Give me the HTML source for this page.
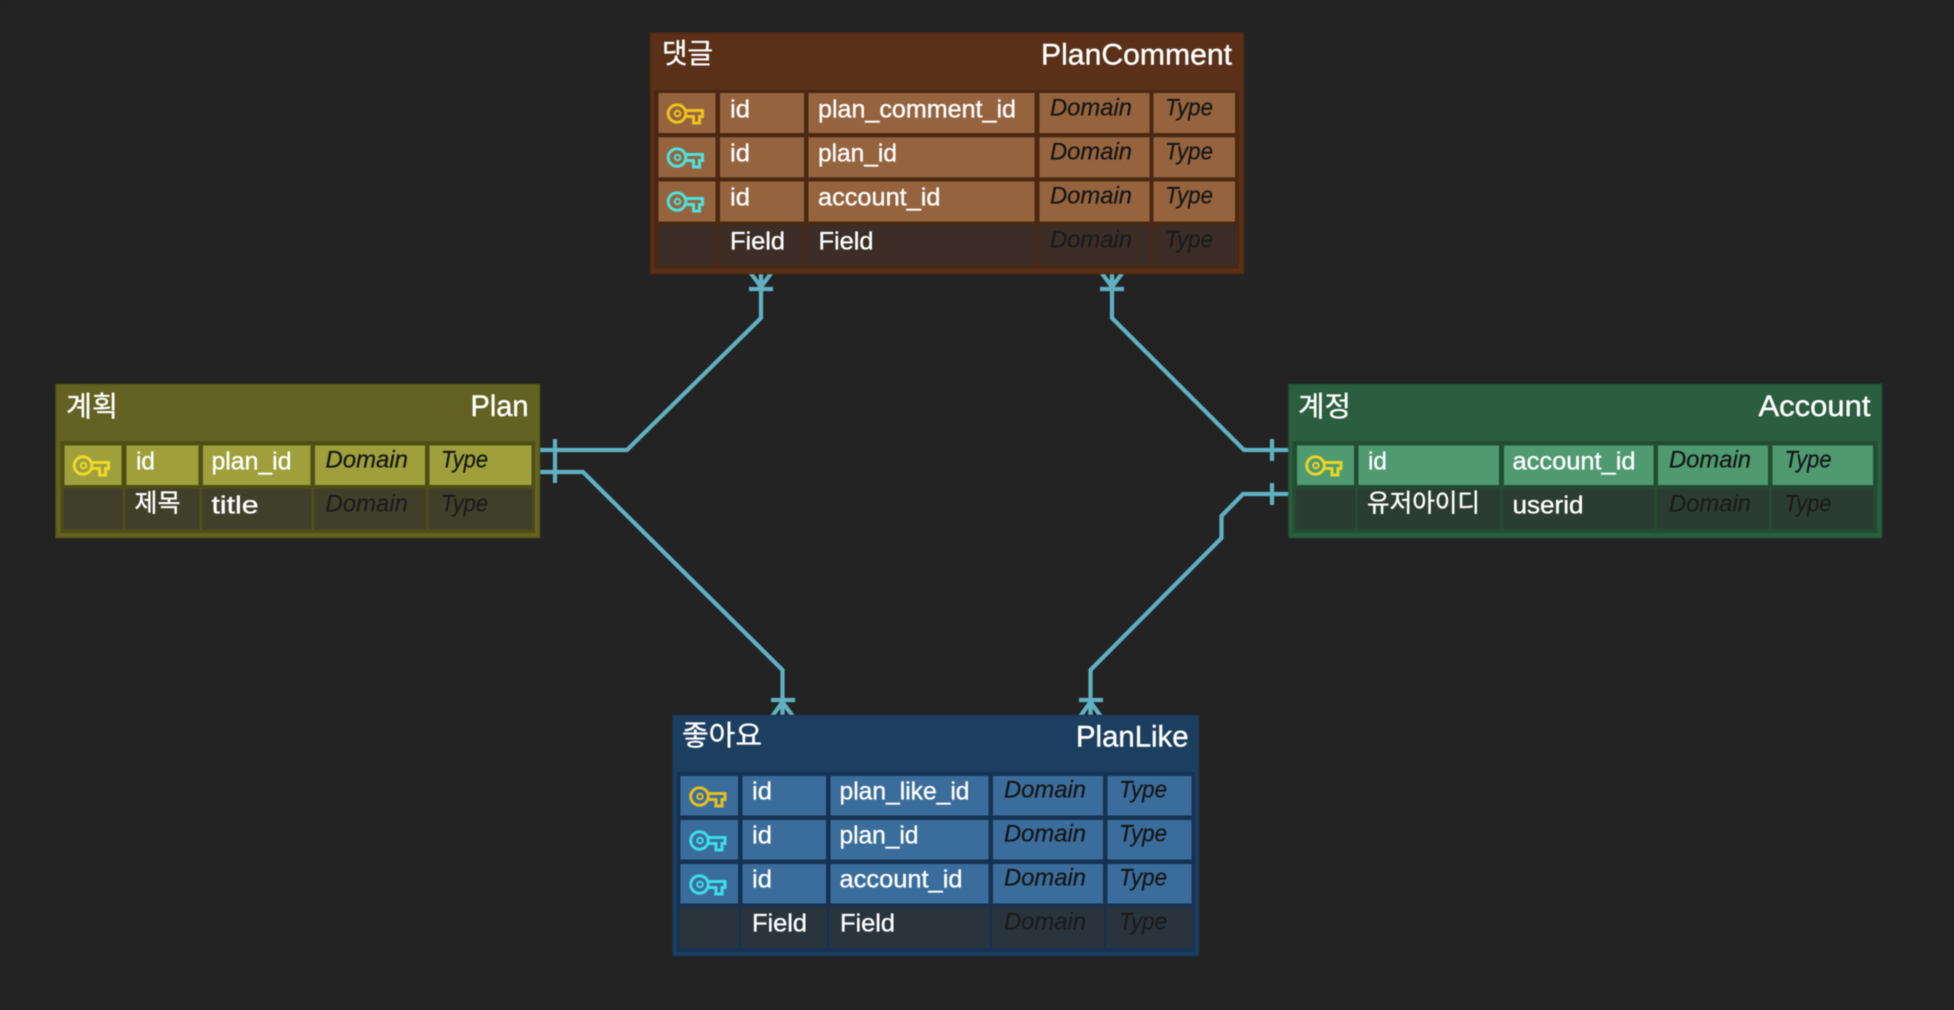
<!DOCTYPE html>
<html><head><meta charset="utf-8">
<style>
html,body{margin:0;padding:0;background:#232323;width:1954px;height:1010px;overflow:hidden}
svg{display:block;filter:blur(.6px)}
text{font-family:"Liberation Sans","Noto Sans CJK KR",sans-serif}
.f{font-size:25px;fill:#fff;stroke:#fff;stroke-width:.35px}
.d{font-size:24px;font-style:italic;fill:#141414;stroke:#141414;stroke-width:.2px}
.e{font-size:24px;font-style:italic;fill:#1b1b1b;stroke:#1b1b1b;stroke-width:.2px}
.h{font-size:30px;fill:#fff;stroke:#fff;stroke-width:.4px}
.k{font-size:28px;fill:#fff;stroke:#fff;stroke-width:.35px;font-family:"Noto Sans CJK KR",sans-serif}
.kf{font-size:25px;fill:#fff;stroke:#fff;stroke-width:.35px;font-family:"Noto Sans CJK KR",sans-serif}
.c path,.c line{fill:none;stroke:#5fb1c3;stroke-width:4.2;stroke-linejoin:miter}
</style></head><body>
<svg width="1954" height="1010" viewBox="0 0 1954 1010" xmlns="http://www.w3.org/2000/svg">
<defs>
<g id="key" fill="none" stroke-width="3">
<circle cx="9.5" cy="10.5" r="8.800"/>
<circle cx="10" cy="10.5" r="2.800" stroke-width="2"/>
<path d="M18 7.500H35V13.500H32V20H26V13.500H18"/>
</g>
</defs>
<rect width="1954" height="1010" fill="#232323"/>

<!-- connectors -->
<g class="c">
<path d="M761 275V318L627 450H538"/>
<path d="M1112 275V318L1244 450H1290"/>
<path d="M538 472H583L782.500 670V716"/>
<path d="M1290 494H1243L1221.500 516V538L1090.500 670V716"/>
<line x1="555" y1="439" x2="555" y2="483"/>
<line x1="1272" y1="439" x2="1272" y2="461"/>
<line x1="1272" y1="483" x2="1272" y2="505"/>
<line x1="749" y1="289" x2="773" y2="289"/>
<line x1="1100" y1="289" x2="1124" y2="289"/>
<line x1="771" y1="700" x2="795" y2="700"/>
<line x1="1079" y1="700" x2="1103" y2="700"/>
<path d="M750 272L761 287L772 272M761 272V287"/>
<path d="M1101 272L1112 287L1123 272M1112 272V287"/>
<path d="M771 718L782.500 702L794 718M782.500 718V702"/>
<path d="M1079 718L1090.500 702L1102 718M1090.500 718V702"/>
</g>

<!-- PlanComment -->
<rect x="650.500" y="33" width="593" height="240.500" fill="#5a3018" stroke="#52290f" stroke-width="1.500"/>
<rect x="654.500" y="90" width="584.500" height="179" fill="#4a2812"/>
<g fill="#95643f">
<rect x="658.500" y="93" width="57" height="40"/><rect x="720" y="93" width="84" height="40"/><rect x="808.500" y="93" width="226" height="40"/><rect x="1039.500" y="93" width="110" height="40"/><rect x="1153.500" y="93" width="81.500" height="40"/>
<rect x="658.500" y="137.300" width="57" height="40"/><rect x="720" y="137.300" width="84" height="40"/><rect x="808.500" y="137.300" width="226" height="40"/><rect x="1039.500" y="137.300" width="110" height="40"/><rect x="1153.500" y="137.300" width="81.500" height="40"/>
<rect x="658.500" y="181.500" width="57" height="40"/><rect x="720" y="181.500" width="84" height="40"/><rect x="808.500" y="181.500" width="226" height="40"/><rect x="1039.500" y="181.500" width="110" height="40"/><rect x="1153.500" y="181.500" width="81.500" height="40"/>
</g>
<g fill="#3c2d26">
<rect x="657.500" y="225" width="59" height="41"/><rect x="719" y="225" width="86" height="41"/><rect x="807.500" y="225" width="228" height="41"/><rect x="1038.500" y="225" width="112" height="41"/><rect x="1152.500" y="225" width="83.500" height="41"/>
</g>
<use href="#key" x="667.500" y="103" stroke="#eec21f"/>
<use href="#key" x="667.500" y="147" stroke="#4ee2dc"/>
<use href="#key" x="667.500" y="191" stroke="#4ee2dc"/>
<text class="k" x="662" y="63" textLength="51" lengthAdjust="spacingAndGlyphs">댓글</text>
<text class="h" x="1232" y="64.500" text-anchor="end" textLength="191" lengthAdjust="spacingAndGlyphs">PlanComment</text>
<text class="f" x="730" y="117.500" textLength="20" lengthAdjust="spacingAndGlyphs">id</text><text class="f" x="818" y="117.500" textLength="198" lengthAdjust="spacingAndGlyphs">plan_comment_id</text><text class="d" x="1050" y="115.500" textLength="82" lengthAdjust="spacingAndGlyphs">Domain</text><text class="d" x="1165" y="115.500" textLength="48" lengthAdjust="spacingAndGlyphs">Type</text>
<text class="f" x="730" y="161.500" textLength="20" lengthAdjust="spacingAndGlyphs">id</text><text class="f" x="818" y="161.500" textLength="79" lengthAdjust="spacingAndGlyphs">plan_id</text><text class="d" x="1050" y="159.500" textLength="82" lengthAdjust="spacingAndGlyphs">Domain</text><text class="d" x="1165" y="159.500" textLength="48" lengthAdjust="spacingAndGlyphs">Type</text>
<text class="f" x="730" y="205.500" textLength="20" lengthAdjust="spacingAndGlyphs">id</text><text class="f" x="818" y="205.500" textLength="122.500" lengthAdjust="spacingAndGlyphs">account_id</text><text class="d" x="1050" y="203.500" textLength="82" lengthAdjust="spacingAndGlyphs">Domain</text><text class="d" x="1165" y="203.500" textLength="48" lengthAdjust="spacingAndGlyphs">Type</text>
<text class="f" x="730" y="249.500" textLength="55" lengthAdjust="spacingAndGlyphs">Field</text><text class="f" x="818.500" y="249.500" textLength="55" lengthAdjust="spacingAndGlyphs">Field</text><text class="e" x="1050" y="247.500" textLength="82" lengthAdjust="spacingAndGlyphs">Domain</text><text class="e" x="1165" y="247.500" textLength="48" lengthAdjust="spacingAndGlyphs">Type</text>

<!-- Plan -->
<rect x="56" y="384.500" width="483.500" height="153" fill="#636222" stroke="#575614" stroke-width="1.500"/>
<rect x="60.500" y="441" width="474.500" height="92" fill="#4f4e15"/>
<g fill="#9f9f3c">
<rect x="64.500" y="445.500" width="57" height="39.500"/><rect x="126.500" y="445.500" width="72" height="39.500"/><rect x="203" y="445.500" width="107.500" height="39.500"/><rect x="315" y="445.500" width="110" height="39.500"/><rect x="429.500" y="445.500" width="102" height="39.500"/>
</g>
<g fill="#40402a">
<rect x="63.500" y="488.500" width="59" height="41"/><rect x="125.500" y="488.500" width="74" height="41"/><rect x="202" y="488.500" width="109.500" height="41"/><rect x="314" y="488.500" width="112" height="41"/><rect x="428.500" y="488.500" width="104" height="41"/>
</g>
<use href="#key" x="73.500" y="455" stroke="#efd92a"/>
<text class="k" x="66" y="416" textLength="52" lengthAdjust="spacingAndGlyphs">계획</text>
<text class="h" x="528.500" y="416" text-anchor="end" textLength="58" lengthAdjust="spacingAndGlyphs">Plan</text>
<text class="f" x="136" y="469.500" textLength="19" lengthAdjust="spacingAndGlyphs">id</text><text class="f" x="211.500" y="469.500" textLength="80" lengthAdjust="spacingAndGlyphs">plan_id</text><text class="d" x="325.500" y="467.500" textLength="82.500" lengthAdjust="spacingAndGlyphs">Domain</text><text class="d" x="441" y="467.500" textLength="47" lengthAdjust="spacingAndGlyphs">Type</text>
<text class="kf" x="134.500" y="511.500" textLength="46" lengthAdjust="spacingAndGlyphs">제목</text><text class="f" x="211.500" y="513.500" textLength="47" lengthAdjust="spacingAndGlyphs">title</text><text class="e" x="325.500" y="511.500" textLength="82.500" lengthAdjust="spacingAndGlyphs">Domain</text><text class="e" x="441" y="511.500" textLength="47" lengthAdjust="spacingAndGlyphs">Type</text>

<!-- Account -->
<rect x="1289" y="384.500" width="592.500" height="153" fill="#2a5e3e" stroke="#24553a" stroke-width="1.500"/>
<rect x="1292.500" y="441" width="585" height="92" fill="#234d33"/>
<g fill="#4f9a70">
<rect x="1297" y="445.500" width="57" height="39.500"/><rect x="1358.500" y="445.500" width="140.500" height="39.500"/><rect x="1504" y="445.500" width="149.500" height="39.500"/><rect x="1658" y="445.500" width="110" height="39.500"/><rect x="1772.500" y="445.500" width="100.500" height="39.500"/>
</g>
<g fill="#2b3d32">
<rect x="1296" y="488.500" width="59" height="41"/><rect x="1357.500" y="488.500" width="142.500" height="41"/><rect x="1503" y="488.500" width="151.500" height="41"/><rect x="1657" y="488.500" width="112" height="41"/><rect x="1771.500" y="488.500" width="102.500" height="41"/>
</g>
<use href="#key" x="1306" y="455" stroke="#e9d42a"/>
<text class="k" x="1298" y="416" textLength="53" lengthAdjust="spacingAndGlyphs">계정</text>
<text class="h" x="1870.500" y="416" text-anchor="end" textLength="112" lengthAdjust="spacingAndGlyphs">Account</text>
<text class="f" x="1368" y="469.500" textLength="19" lengthAdjust="spacingAndGlyphs">id</text><text class="f" x="1512.500" y="469.500" textLength="123" lengthAdjust="spacingAndGlyphs">account_id</text><text class="d" x="1669" y="467.500" textLength="82" lengthAdjust="spacingAndGlyphs">Domain</text><text class="d" x="1784.500" y="467.500" textLength="47" lengthAdjust="spacingAndGlyphs">Type</text>
<text class="kf" x="1367" y="511.500" textLength="113" lengthAdjust="spacingAndGlyphs">유저아이디</text><text class="f" x="1512.500" y="513.500" textLength="71" lengthAdjust="spacingAndGlyphs">userid</text><text class="e" x="1669" y="511.500" textLength="82" lengthAdjust="spacingAndGlyphs">Domain</text><text class="e" x="1784.500" y="511.500" textLength="47" lengthAdjust="spacingAndGlyphs">Type</text>

<!-- PlanLike -->
<rect x="673" y="715.500" width="525.500" height="240" fill="#1c3f60" stroke="#18385a" stroke-width="1.500"/>
<rect x="677" y="772" width="518" height="180" fill="#163252"/>
<g fill="#3b6d9c">
<rect x="680.500" y="776" width="57.500" height="39.500"/><rect x="742.500" y="776" width="83.500" height="39.500"/><rect x="830.500" y="776" width="158" height="39.500"/><rect x="993" y="776" width="110" height="39.500"/><rect x="1107.500" y="776" width="84" height="39.500"/>
<rect x="680.500" y="820" width="57.500" height="39.500"/><rect x="742.500" y="820" width="83.500" height="39.500"/><rect x="830.500" y="820" width="158" height="39.500"/><rect x="993" y="820" width="110" height="39.500"/><rect x="1107.500" y="820" width="84" height="39.500"/>
<rect x="680.500" y="864" width="57.500" height="39.500"/><rect x="742.500" y="864" width="83.500" height="39.500"/><rect x="830.500" y="864" width="158" height="39.500"/><rect x="993" y="864" width="110" height="39.500"/><rect x="1107.500" y="864" width="84" height="39.500"/>
</g>
<g fill="#2a343d">
<rect x="679.500" y="907" width="59.500" height="41"/><rect x="741.500" y="907" width="85.500" height="41"/><rect x="829.500" y="907" width="160" height="41"/><rect x="992" y="907" width="112" height="41"/><rect x="1106.500" y="907" width="86" height="41"/>
</g>
<use href="#key" x="690" y="786" stroke="#e6be1e"/>
<use href="#key" x="690" y="830" stroke="#3fdcec"/>
<use href="#key" x="690" y="874" stroke="#3fdcec"/>
<text class="k" x="682" y="745" textLength="80" lengthAdjust="spacingAndGlyphs">좋아요</text>
<text class="h" x="1188.500" y="746.500" text-anchor="end" textLength="112.500" lengthAdjust="spacingAndGlyphs">PlanLike</text>
<text class="f" x="752" y="799.500" textLength="20" lengthAdjust="spacingAndGlyphs">id</text><text class="f" x="839.500" y="799.500" textLength="130" lengthAdjust="spacingAndGlyphs">plan_like_id</text><text class="d" x="1004" y="797.500" textLength="82" lengthAdjust="spacingAndGlyphs">Domain</text><text class="d" x="1119" y="797.500" textLength="48" lengthAdjust="spacingAndGlyphs">Type</text>
<text class="f" x="752" y="843.500" textLength="20" lengthAdjust="spacingAndGlyphs">id</text><text class="f" x="839.500" y="843.500" textLength="79" lengthAdjust="spacingAndGlyphs">plan_id</text><text class="d" x="1004" y="841.500" textLength="82" lengthAdjust="spacingAndGlyphs">Domain</text><text class="d" x="1119" y="841.500" textLength="48" lengthAdjust="spacingAndGlyphs">Type</text>
<text class="f" x="752" y="887.500" textLength="20" lengthAdjust="spacingAndGlyphs">id</text><text class="f" x="839.500" y="887.500" textLength="123" lengthAdjust="spacingAndGlyphs">account_id</text><text class="d" x="1004" y="885.500" textLength="82" lengthAdjust="spacingAndGlyphs">Domain</text><text class="d" x="1119" y="885.500" textLength="48" lengthAdjust="spacingAndGlyphs">Type</text>
<text class="f" x="752" y="931.500" textLength="55" lengthAdjust="spacingAndGlyphs">Field</text><text class="f" x="840" y="931.500" textLength="55" lengthAdjust="spacingAndGlyphs">Field</text><text class="e" x="1004" y="929.500" textLength="82" lengthAdjust="spacingAndGlyphs">Domain</text><text class="e" x="1119" y="929.500" textLength="48" lengthAdjust="spacingAndGlyphs">Type</text>
</svg>
</body></html>
